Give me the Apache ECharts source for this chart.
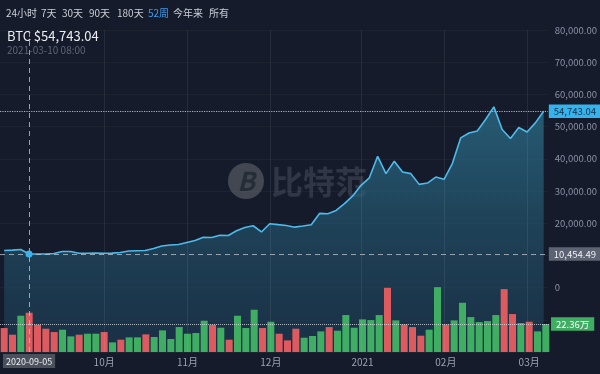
<!DOCTYPE html>
<html><head><meta charset="utf-8">
<script src="https://cdn.jsdelivr.net/npm/echarts@6/dist/echarts.min.js"></script>
<style>html,body{margin:0;padding:0;background:#161b2b;}#c{width:600px;height:374px;}</style>
</head><body><div id="c"></div>
<script>
const dates = ['2020-08-27','2020-08-30','2020-09-02','2020-09-05','2020-09-08','2020-09-11','2020-09-14','2020-09-17','2020-09-20','2020-09-23','2020-09-26','2020-09-29','2020-10-02','2020-10-05','2020-10-08','2020-10-11','2020-10-14','2020-10-17','2020-10-20','2020-10-23','2020-10-26','2020-10-29','2020-11-01','2020-11-04','2020-11-07','2020-11-10','2020-11-13','2020-11-16','2020-11-19','2020-11-22','2020-11-25','2020-11-28','2020-12-01','2020-12-04','2020-12-07','2020-12-10','2020-12-13','2020-12-16','2020-12-19','2020-12-22','2020-12-25','2020-12-28','2020-12-31','2021-01-03','2021-01-06','2021-01-09','2021-01-12','2021-01-15','2021-01-18','2021-01-21','2021-01-24','2021-01-27','2021-01-30','2021-02-02','2021-02-05','2021-02-08','2021-02-11','2021-02-14','2021-02-17','2021-02-20','2021-02-23','2021-02-26','2021-03-01','2021-03-04','2021-03-07','2021-03-10'];
const prices = [11518,11650,11830,10454.49,10420,10450,10580,11200,11200,10680,10680,10700,10650,10700,10900,11360,11450,11520,12140,12920,13230,13390,14010,14630,15660,15570,16250,16190,17650,18680,19210,17280,19830,19550,19300,18770,19140,19520,23040,22940,23970,26060,28480,31750,34090,40780,35390,39220,35890,35390,32060,32470,34330,33620,38510,46480,48030,48660,52200,56130,49090,46290,49710,48340,51150,54743.04];
const volumes = [19.17,13.84,29.02,31.41,21.83,18.63,15.97,17.84,12.51,13.84,14.64,14.64,15.97,7.72,9.85,11.71,11.71,14.11,11.98,17.30,10.38,19.96,14.64,15.17,25.02,21.83,19.43,9.85,29.02,19.17,33.81,19.17,24.22,14.64,9.32,18.63,11.45,12.78,16.50,19.96,17.04,29.55,19.43,26.09,25.55,29.55,51.37,25.29,22.09,19.96,13.04,17.84,51.91,22.09,25.29,39.40,27.95,23.96,24.75,29.55,50.31,30.35,23.16,24.22,16.50,22.36];
const directions = [-1,-1,1,-1,-1,-1,-1,1,1,-1,1,1,-1,1,-1,1,1,-1,1,1,1,1,1,1,1,-1,1,-1,1,1,1,-1,1,-1,-1,-1,1,1,1,-1,1,1,1,1,1,1,-1,1,-1,-1,-1,1,1,-1,1,1,1,1,1,1,-1,-1,1,-1,1,1];
const monthTickIndex = [12,22,32,43,53,63];
const monthTickLabels = ['10月','11月','12月','2021','02月','03月'];
const rangeButtons = ['24小时','7天','30天','90天','180天','52周','今年来','所有'];
const activeRange = '52周';
const priceTicks = [0,10000,20000,30000,40000,50000,60000,70000,80000];
const lastPrice = 54743.04;
const lastDate = '2021-03-10 08:00';
const cursorIndex = 3;
const cursorPrice = 10454.49;
const lastVolume = 22.36;

function fmt(v){
  const s = v.toFixed(2).split('.');
  return s[0].replace(/\B(?=(\d{3})+(?!\d))/g, ',') + '.' + s[1];
}
const FONT = '"Noto Sans CJK SC", "Noto Sans", sans-serif';
const UP = '#3fae62', DOWN = '#dd5a5e';

const chart = echarts.init(document.getElementById('c'), null, {renderer:'canvas'});

const btnX = [6,41,62,89,117,148,173,209];
const graphics = rangeButtons.map((t,i)=>({
  type:'text', left: btnX[i], top: 8, z: 10,
  style:{text:t, fill: t===activeRange ? '#3d9be9' : '#c9cdd6', font:'10px '+FONT}
}));
graphics.push({type:'text', left:7, top:30, z:10, style:{text:'BTC $'+fmt(lastPrice), fill:'#eceef2', font:'13px '+FONT}});
graphics.push({type:'text', left:7, top:45, z:10, style:{text:lastDate, fill:'#5d6475', font:'10px '+FONT}});
// watermark
graphics.push({type:'circle', z:1, shape:{cx:246, cy:181, r:18}, style:{fill:'rgba(110,115,122,0.5)'}});
graphics.push({type:'text', z:1, x:246, y:181, style:{text:'B', fill:'rgba(30,36,46,0.75)', font:'italic bold 26px '+FONT, align:'center', verticalAlign:'middle'}});
graphics.push({type:'text', z:1, x:271, y:182, style:{text:'比特范', fill:'rgba(85,92,104,0.42)', font:'bold 32px '+FONT, align:'left', verticalAlign:'middle'}});

const option = {
  backgroundColor:'#161b2b',
  animation:false,
  textStyle:{fontFamily:FONT},
  graphic: graphics,
  grid:[
    {left:0, right:50, top:30, bottom:22},
    {left:0, right:50, top:287, bottom:22}
  ],
  xAxis:[
    {type:'category', gridIndex:0, data:dates, boundaryGap:true,
     axisLine:{show:false}, axisTick:{show:false}, axisLabel:{show:false}, splitLine:{show:false}},
    {type:'category', gridIndex:1, data:dates, boundaryGap:true,
     axisLine:{show:false}, axisTick:{show:false}, splitLine:{show:false},
     axisLabel:{show:true, color:'#9aa2b3', fontSize:10, margin:5,
       interval:(idx)=>monthTickIndex.indexOf(idx)>=0,
       formatter:(v,idx)=>{const k=monthTickIndex.indexOf(idx); return k>=0?monthTickLabels[k]:'';}}}
  ],
  yAxis:[
    {type:'value', gridIndex:0, position:'right', min:-20000, max:80000, interval:10000,
     axisLine:{show:false}, axisTick:{show:false},
     splitLine:{show:true, lineStyle:{color:'rgba(255,255,255,0.035)'}},
     axisLabel:{color:'#8b93a5', fontSize:9.5, margin:7,
       formatter:(v)=> priceTicks.indexOf(v)>=0 ? (v===0?'0':fmt(v)) : ''}},
    {type:'value', gridIndex:1, min:0, max:52, show:false}
  ],
  series:[
    {type:'line', xAxisIndex:0, yAxisIndex:0, data:prices, symbol:'none', z:2,
     lineStyle:{color:'#4dbaec', width:1.6},
     areaStyle:{origin:'start', color:new echarts.graphic.LinearGradient(0,0,0,1,[
       {offset:0, color:'#2d7692'},{offset:0.5, color:'#225169'},{offset:1, color:'#1b3850'}])},
     markLine:{silent:true, symbol:'none', animation:false,
       data:[
         ...monthTickIndex.map(i=>({xAxis:i, lineStyle:{color:'rgba(255,255,255,0.07)', type:'solid', width:1}, label:{show:false}})),
         {yAxis:lastPrice, lineStyle:{color:'#6cc7f2', type:'dotted', width:1.2},
          label:{show:true, position:'end', distance:1, formatter:fmt(lastPrice), backgroundColor:'#35b3ee', color:'#123049', fontSize:9.5, padding:[2,5,2,5]}},
         {yAxis:cursorPrice, lineStyle:{color:'rgba(200,205,215,0.7)', type:[5,4], width:1},
          label:{show:true, position:'end', distance:1, formatter:fmt(cursorPrice), backgroundColor:'#5d6372', color:'#f0f2f5', fontSize:9.5, padding:[2,5,2,5]}},
         {xAxis:cursorIndex, lineStyle:{color:'rgba(200,205,215,0.75)', type:[5,4], width:1},
          label:{show:true, position:'start', distance:2, formatter:dates[cursorIndex], backgroundColor:'#4b505d', color:'#eef0f4', fontSize:9, padding:[3,3,2,3]}}
       ]},
     markPoint:{silent:true, symbol:'circle', symbolSize:7, itemStyle:{color:'#3fb2ec'}, label:{show:false},
       data:[{coord:[cursorIndex, cursorPrice]}]}
    },
    {type:'bar', xAxisIndex:1, yAxisIndex:1, z:3, barCategoryGap:'16%',
     data: volumes.map((v,i)=>({value:v, itemStyle:{color: directions[i]>0?UP:DOWN}})),
     markLine:{silent:true, symbol:'none', animation:false,
       data:[{yAxis:lastVolume, lineStyle:{color:'rgba(220,225,230,0.75)', type:'dotted', width:1},
         label:{show:true, position:'end', distance:1, formatter:lastVolume.toFixed(2)+'万', backgroundColor:UP, color:'#ffffff', fontSize:9.5, padding:[2,5,2,5]}}]}
    }
  ]
};
chart.setOption(option);
</script></body></html>
